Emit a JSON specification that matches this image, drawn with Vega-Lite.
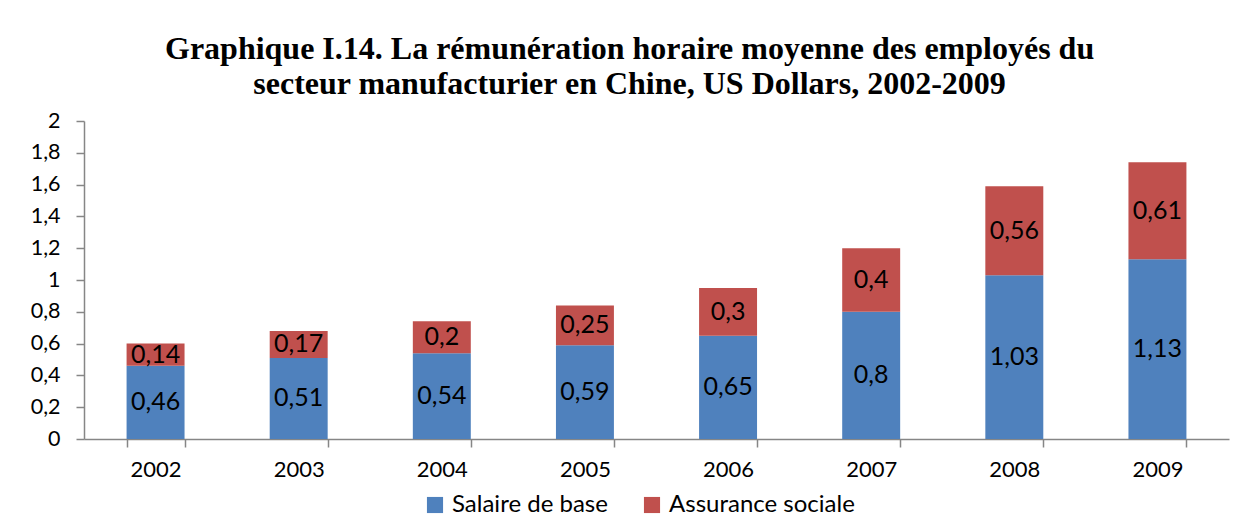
{
  "$schema": "https://vega.github.io/schema/vega-lite/v6.json",
  "width": 1145,
  "height": 318,
  "autosize": {"type": "none"},
  "padding": {"left": 84, "top": 121, "right": 17, "bottom": 91},
  "background": "white",
  "config": {
    "locale": {"number": {"decimal": ",", "thousands": " ", "grouping": [3], "currency": ["", " €"]}},
    "view": {"stroke": null},
    "font": "Lato",
    "axis": {
      "labelFontSize": 22, "labelColor": "black", "labelFont": "Lato",
      "domainColor": "#868686", "domainWidth": 1.5, "tickColor": "#868686", "tickWidth": 1.5,
      "grid": false, "title": null
    },
    "axisY": {"labelFontSize": 21.5, "labelOverlap": false, "tickSize": 8, "labelPadding": 16},
    "axisX": {"labelAngle": 0, "tickSize": 8, "labelPadding": 12}
  },
  "title": {
    "text": ["Graphique I.14. La rémunération horaire moyenne des employés du", "secteur manufacturier en Chine, US Dollars, 2002-2009"],
    "font": "Liberation Serif",
    "fontSize": 32,
    "fontWeight": "bold",
    "color": "black",
    "lineHeight": 35,
    "anchor": "middle",
    "frame": "bounds",
    "offset": 9
  },
  "data": {
    "values": [
      {"year": "2002", "series": "Salaire de base", "value": 0.46},
      {"year": "2002", "series": "Assurance sociale", "value": 0.14},
      {"year": "2003", "series": "Salaire de base", "value": 0.51},
      {"year": "2003", "series": "Assurance sociale", "value": 0.17},
      {"year": "2004", "series": "Salaire de base", "value": 0.54},
      {"year": "2004", "series": "Assurance sociale", "value": 0.2},
      {"year": "2005", "series": "Salaire de base", "value": 0.59},
      {"year": "2005", "series": "Assurance sociale", "value": 0.25},
      {"year": "2006", "series": "Salaire de base", "value": 0.65},
      {"year": "2006", "series": "Assurance sociale", "value": 0.3},
      {"year": "2007", "series": "Salaire de base", "value": 0.8},
      {"year": "2007", "series": "Assurance sociale", "value": 0.4},
      {"year": "2008", "series": "Salaire de base", "value": 1.03},
      {"year": "2008", "series": "Assurance sociale", "value": 0.56},
      {"year": "2009", "series": "Salaire de base", "value": 1.13},
      {"year": "2009", "series": "Assurance sociale", "value": 0.61}
    ]
  },
  "transform": [
    {"stack": "value", "groupby": ["year"], "sort": [{"field": "series", "order": "descending"}], "as": ["y0", "y1"]}
  ],
  "encoding": {
    "x": {
      "field": "year", "type": "nominal", "title": null,
      "scale": {"paddingInner": 0.595, "paddingOuter": 0.2975},
      "axis": {"tickBand": "extent", "labelAngle": 0}
    }
  },
  "resolve": {"axis": {"y": "independent"}},
  "layer": [
    {
      "mark": {"type": "bar"},
      "encoding": {
        "y": {
          "field": "y1", "type": "quantitative", "title": null,
          "scale": {"domain": [0, 2], "nice": false},
          "axis": {
            "values": [0, 0.2, 0.4, 0.6, 0.8, 1, 1.2, 1.4, 1.6, 1.8, 2],
            "format": ".1~f", "labelOverlap": false
          }
        },
        "y2": {"field": "y0"},
        "color": {
          "field": "series", "type": "nominal",
          "scale": {"domain": ["Salaire de base", "Assurance sociale"], "range": ["#4F81BD", "#C0504D"]},
          "legend": {
            "title": null, "orient": "none", "direction": "horizontal",
            "legendX": 339, "legendY": 372,
            "symbolType": "square", "symbolSize": 260, "symbolStrokeWidth": 0, "symbolOpacity": 1,
            "labelFontSize": 24, "labelFont": "Lato", "labelColor": "black", "labelLimit": 400,
            "columnPadding": 32, "labelOffset": 5
          }
        }
      }
    },
    {
      "transform": [
        {"fold": ["y0", "y1"], "as": ["k", "v"]},
        {"aggregate": [{"op": "mean", "field": "v", "as": "mid"}], "groupby": ["year", "series", "value"]}
      ],
      "mark": {"type": "text", "fontSize": 25, "font": "Lato", "color": "black", "baseline": "middle", "align": "center"},
      "encoding": {
        "y": {"field": "mid", "type": "quantitative", "axis": null},
        "text": {"field": "value", "type": "quantitative", "format": ".2~f"}
      }
    }
  ]
}
